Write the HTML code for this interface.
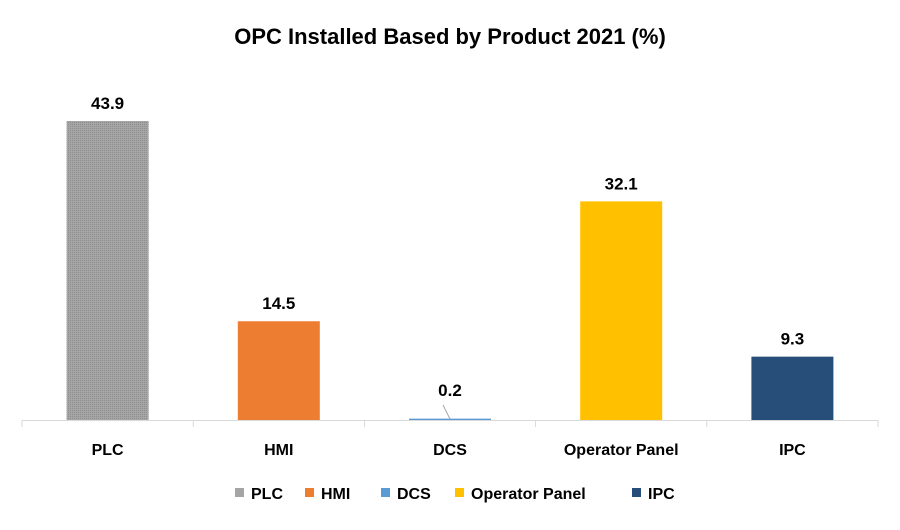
<!DOCTYPE html>
<html><head><meta charset="utf-8"><style>
body{margin:0;background:#fff;font-family:"Liberation Sans",sans-serif}
svg text{font-family:"Liberation Sans",sans-serif;font-weight:bold;fill:#000}
</style></head><body>
<svg id="c" width="900" height="525" xmlns="http://www.w3.org/2000/svg">
<defs><pattern id="dots" width="2" height="2" patternUnits="userSpaceOnUse"><rect width="2" height="2" fill="#a6a6a6"/><rect width="1" height="1" fill="#8c8c8c"/></pattern></defs>
<text x="450" y="44" text-anchor="middle" font-size="22">OPC Installed Based by Product 2021 (%)</text>
<g id="bars"></g>
<g id="legend"></g>
</svg>
<script>
const categories=["PLC","HMI","DCS","Operator Panel","IPC"];
const values=[43.9,14.5,0.2,32.1,9.3];
const labels=["43.9","14.5","0.2","32.1","9.3"];
const colors=["url(#dots)","#ed7d31","#5b9bd5","#ffc000","#264e78"];
const legendColors=["#a5a5a5","#ed7d31","#5b9bd5","#ffc000","#264e78"];
const NS="http://www.w3.org/2000/svg";
const x0=22,x1=878,base=420,pxPer=299/43.9;
const bw=(x1-x0)/categories.length;
const y=v=>base-v*pxPer;
const g=document.getElementById('bars');
function mk(t,a,p){const e=document.createElementNS(NS,t);for(const k in a)e.setAttribute(k,a[k]);p.appendChild(e);return e;}
categories.forEach((c,i)=>{
  const cx=x0+bw*(i+0.5);
  const r=mk('rect',{x:cx-41,y:y(values[i]),width:82,height:Math.max(base-y(values[i]),0.5),fill:colors[i]},g);
  
  
  let ly=y(values[i])-12;
  if(values[i]<2){ly=base-24;
    const l=mk('line',{x1:cx-7,y1:base-15,x2:cx,y2:base-1,stroke:'#a6a6a6','stroke-width':1},g);
    
    }
  const t=mk('text',{x:cx,y:ly,'text-anchor':'middle','font-size':17},g);t.textContent=labels[i];
  
  
  const xt=mk('text',{x:cx,y:455,'text-anchor':'middle','font-size':16},g);xt.textContent=c;
  
  
});
const ax=mk('line',{x1:x0,y1:base+0.5,x2:x1,y2:base+0.5,stroke:'#d9d9d9'},g);


for(let i=0;i<=categories.length;i++){
  const tk=mk('line',{x1:x0+bw*i,y1:base,x2:x0+bw*i,y2:base+7,stroke:'#d9d9d9'},g);
  
  
}
const lg=document.getElementById('legend');
const lx=[235,305,381,455,632];
categories.forEach((c,i)=>{
  const s=mk('rect',{x:lx[i],y:488,width:9,height:9,fill:legendColors[i]},lg);
  
  
  const t=mk('text',{x:lx[i]+16,y:499,'font-size':16},lg);t.textContent=c;
  
  
});
</script>
</body></html>
